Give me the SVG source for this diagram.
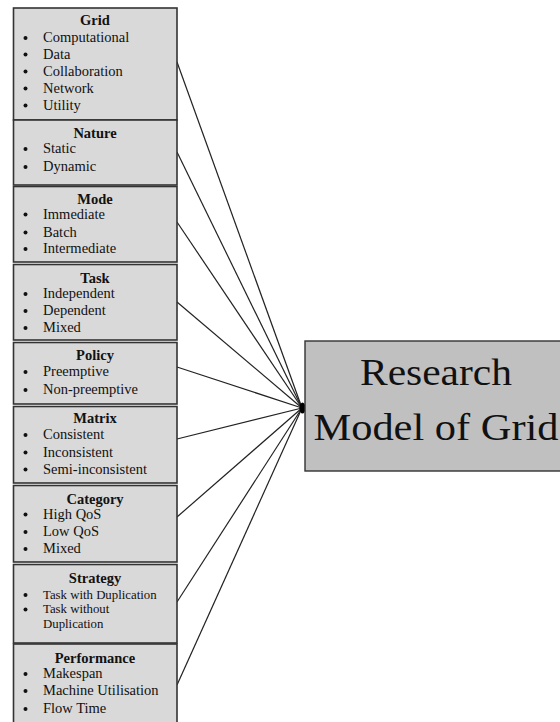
<svg xmlns="http://www.w3.org/2000/svg" width="560" height="722" viewBox="0 0 560 722">
<style>
.box{fill:#d9d9d9;stroke:#333;stroke-width:1.6}
.main{fill:#c0c0c0;stroke:#333;stroke-width:1.4}
.t{font-family:"Liberation Serif","Times New Roman",serif;font-weight:bold;font-size:14.5px;fill:#111;text-anchor:middle}
.i{font-family:"Liberation Serif","Times New Roman",serif;font-size:14.5px;fill:#111}
.s{font-family:"Liberation Serif","Times New Roman",serif;font-size:12.8px;fill:#111}
.b{fill:#111}
.big{font-family:"Liberation Serif","Times New Roman",serif;font-size:37px;fill:#111;text-anchor:middle}
.c line{stroke:#222;stroke-width:1.2}
</style>
<rect width="560" height="722" fill="#fff"/>
<g class="c" id="connectors">
<line x1="177" y1="62" x2="302" y2="408"/>
<line x1="177" y1="152" x2="302" y2="408"/>
<line x1="177" y1="222" x2="302" y2="408"/>
<line x1="177" y1="302" x2="302" y2="408"/>
<line x1="177" y1="367" x2="302" y2="408"/>
<line x1="177" y1="439" x2="302" y2="408"/>
<line x1="177" y1="517" x2="302" y2="408"/>
<line x1="177" y1="602" x2="302" y2="408"/>
<line x1="177" y1="685" x2="302" y2="408"/>
<ellipse cx="302.5" cy="408" rx="3" ry="5.5" fill="#000"/>
</g>
<g id="grid">
<rect class="box" x="13.5" y="8" width="163.5" height="112"/>
<text class="t" x="95" y="25">Grid</text>
<circle class="b" cx="25.5" cy="38" r="2"/><text class="i" x="43" y="42">Computational</text>
<circle class="b" cx="25.5" cy="54.5" r="2"/><text class="i" x="43" y="58.5">Data</text>
<circle class="b" cx="25.5" cy="71.5" r="2"/><text class="i" x="43" y="75.5">Collaboration</text>
<circle class="b" cx="25.5" cy="88.5" r="2"/><text class="i" x="43" y="92.5">Network</text>
<circle class="b" cx="25.5" cy="105.5" r="2"/><text class="i" x="43" y="109.5">Utility</text>
</g>
<g id="nature">
<rect class="box" x="13.5" y="120" width="163.5" height="65"/>
<text class="t" x="95" y="137.5">Nature</text>
<circle class="b" cx="25.5" cy="149" r="2"/><text class="i" x="43" y="153">Static</text>
<circle class="b" cx="25.5" cy="167" r="2"/><text class="i" x="43" y="171">Dynamic</text>
</g>
<g id="mode">
<rect class="box" x="13.5" y="186.5" width="163.5" height="75.5"/>
<text class="t" x="95" y="203.5">Mode</text>
<circle class="b" cx="25.5" cy="214.5" r="2"/><text class="i" x="43" y="218.5">Immediate</text>
<circle class="b" cx="25.5" cy="232.5" r="2"/><text class="i" x="43" y="236.5">Batch</text>
<circle class="b" cx="25.5" cy="249" r="2"/><text class="i" x="43" y="253">Intermediate</text>
</g>
<g id="task">
<rect class="box" x="13.5" y="264.5" width="163.5" height="75.5"/>
<text class="t" x="95" y="282.5">Task</text>
<circle class="b" cx="25.5" cy="294" r="2"/><text class="i" x="43" y="298">Independent</text>
<circle class="b" cx="25.5" cy="311" r="2"/><text class="i" x="43" y="315">Dependent</text>
<circle class="b" cx="25.5" cy="328" r="2"/><text class="i" x="43" y="332">Mixed</text>
</g>
<g id="policy">
<rect class="box" x="13.5" y="342.5" width="163.5" height="61.5"/>
<text class="t" x="95" y="360">Policy</text>
<circle class="b" cx="25.5" cy="372" r="2"/><text class="i" x="43" y="376">Preemptive</text>
<circle class="b" cx="25.5" cy="390" r="2"/><text class="i" x="43" y="394">Non-preemptive</text>
</g>
<g id="matrix">
<rect class="box" x="13.5" y="406.5" width="163.5" height="76.5"/>
<text class="t" x="95" y="423">Matrix</text>
<circle class="b" cx="25.5" cy="435" r="2"/><text class="i" x="43" y="439">Consistent</text>
<circle class="b" cx="25.5" cy="452.5" r="2"/><text class="i" x="43" y="456.5">Inconsistent</text>
<circle class="b" cx="25.5" cy="469.5" r="2"/><text class="i" x="43" y="473.5">Semi-inconsistent</text>
</g>
<g id="category">
<rect class="box" x="13.5" y="485.5" width="163.5" height="76.5"/>
<text class="t" x="95" y="504">Category</text>
<circle class="b" cx="25.5" cy="514.5" r="2"/><text class="i" x="43" y="518.5">High QoS</text>
<circle class="b" cx="25.5" cy="532" r="2"/><text class="i" x="43" y="536">Low QoS</text>
<circle class="b" cx="25.5" cy="549" r="2"/><text class="i" x="43" y="553">Mixed</text>
</g>
<g id="strategy">
<rect class="box" x="13.5" y="564.5" width="163.5" height="78.5"/>
<text class="t" x="95" y="583">Strategy</text>
<circle class="b" cx="25.5" cy="595" r="2"/><text class="s" x="43" y="598.5">Task with Duplication</text>
<circle class="b" cx="25.5" cy="609.5" r="2"/><text class="s" x="43" y="613">Task without</text>
<text class="s" x="43" y="628">Duplication</text>
</g>
<g id="performance">
<rect class="box" x="13.5" y="644" width="163.5" height="82"/>
<text class="t" x="95" y="663">Performance</text>
<circle class="b" cx="25.5" cy="674" r="2"/><text class="i" x="43" y="678">Makespan</text>
<circle class="b" cx="25.5" cy="691" r="2"/><text class="i" x="43" y="695">Machine Utilisation</text>
<circle class="b" cx="25.5" cy="709" r="2"/><text class="i" x="43" y="713">Flow Time</text>
</g>
<g id="research-model">
<rect class="main" x="305" y="341" width="260" height="130"/>
<text class="big" x="436" y="385" textLength="152" lengthAdjust="spacingAndGlyphs">Research</text>
<text class="big" x="436" y="440" textLength="245" lengthAdjust="spacingAndGlyphs">Model of Grid</text>
</g>
</svg>
